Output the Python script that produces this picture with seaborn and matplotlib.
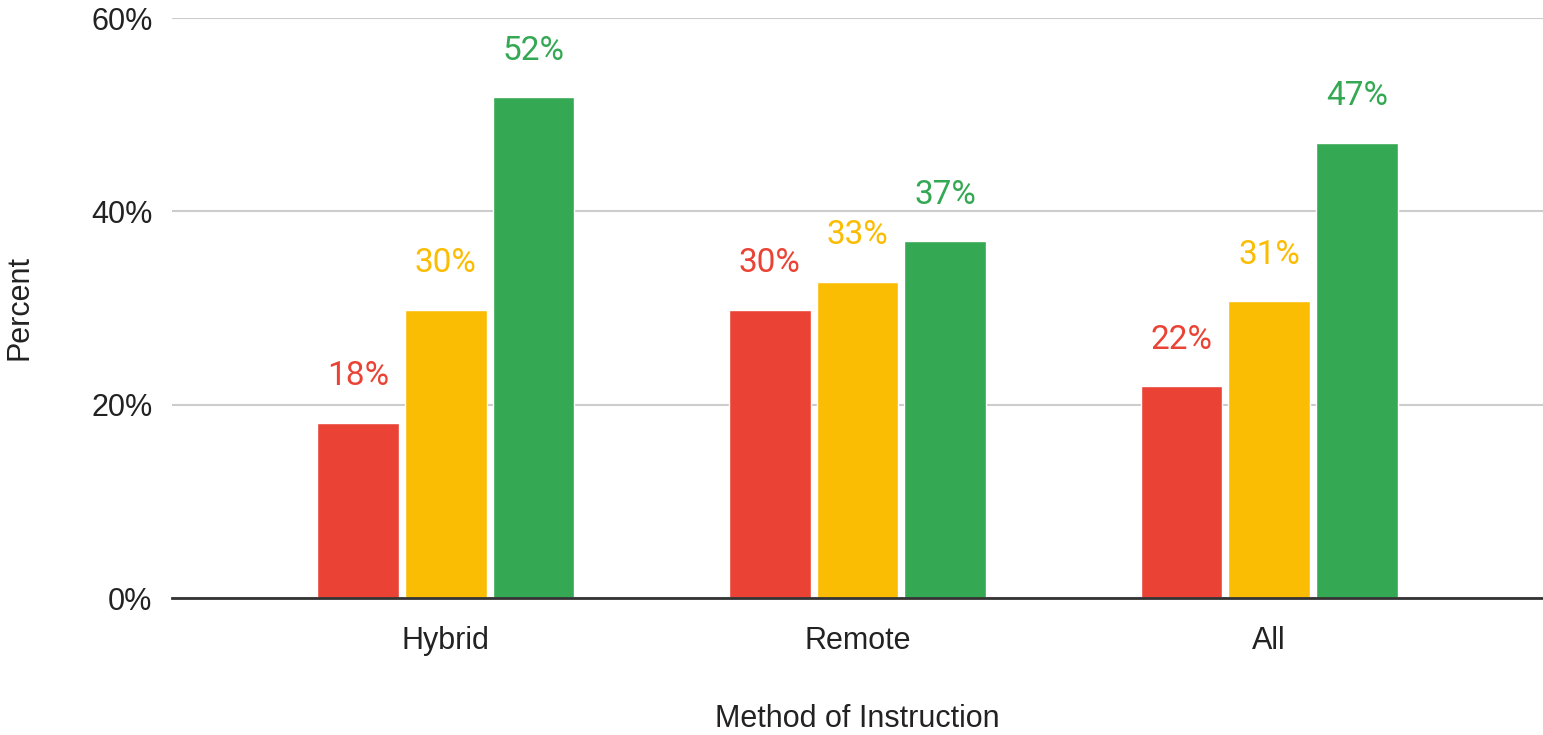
import numpy as np
import pandas as pd
import matplotlib
matplotlib.use('Agg')
import matplotlib.pyplot as plt
import seaborn as sns

# Data
methods = ['Hybrid', 'Remote', 'All']
series = ['Low', 'Medium', 'High']
low_vals = [18.1, 29.8, 21.9]
medium_vals = [29.8, 32.7, 30.7]
high_vals = [51.8, 36.9, 47.1]
colors = ['#EA4335', '#FBBC04', '#34A853']

df = pd.DataFrame({
    'Method': methods * 3,
    'Group': [s for s in series for _ in methods],
    'Percent': low_vals + medium_vals + high_vals,
})

sns.set_style('white')
plt.rcParams['font.family'] = ['Liberation Sans', 'DejaVu Sans']

fig = plt.figure(figsize=(15.43, 7.35), dpi=100)
ax = fig.add_axes([172 / 1543, 1 - 598 / 735, 1 - 172 / 1543, 580 / 735])

sns.barplot(data=df, x='Method', y='Percent', hue='Group', order=methods,
            hue_order=series, palette=colors, width=0.64, gap=0.07,
            saturation=1, legend=False, ax=ax)

# Value labels above each bar
for container, col in zip(ax.containers, colors):
    ax.bar_label(container, labels=[f'{v:.0f}%' for v in container.datavalues],
                 padding=22, color=col, fontsize=24, family='Roboto')

ax.set_xlim(-0.665, 2.665)
ax.set_ylim(0, 60)
ax.set_yticks([0, 20, 40, 60])
ax.set_yticklabels(['0%', '20%', '40%', '60%'])
ax.yaxis.grid(True, color='#cccccc', linewidth=1.5)
ax.set_axisbelow(True)
for side in ['top', 'right', 'left']:
    ax.spines[side].set_visible(False)
ax.spines['bottom'].set_color('#333333')
ax.spines['bottom'].set_linewidth(2)
ax.tick_params(axis='y', length=0, pad=14, labelsize=22, labelcolor='#222222')
ax.tick_params(axis='x', length=0, pad=20, labelsize=22, labelcolor='#222222')
ax.set_xlabel('Method of Instruction', fontsize=22, color='#222222')
ax.set_ylabel('Percent', fontsize=22, color='#222222')
ax.xaxis.set_label_coords(0.5, -0.183)
ax.yaxis.set_label_coords(-0.1, 0.5)

fig.savefig('out.png', dpi=100)
